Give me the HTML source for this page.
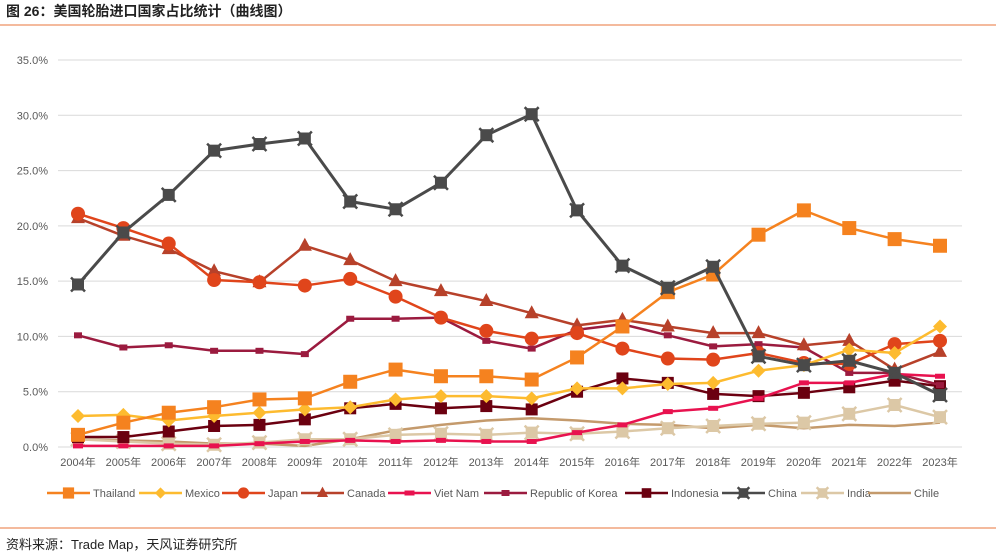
<!DOCTYPE html>
<html><head><meta charset="utf-8"><style>
body{margin:0;background:#fff;font-family:"Liberation Sans","Noto Sans CJK SC",sans-serif;}
#wrap{position:relative;width:996px;height:558px;overflow:hidden}
</style></head><body>
<div id="wrap">
<svg id="svg" width="996" height="558">
<text x="6" y="16" font-size="14" font-weight="bold" fill="#222" font-family="Liberation Sans, Noto Sans CJK SC, sans-serif">图 26：美国轮胎进口国家占比统计（曲线图）</text>
<line x1="0" y1="25" x2="996" y2="25" stroke="#E8743B" stroke-width="1"/>
<line x1="0" y1="528" x2="996" y2="528" stroke="#E8743B" stroke-width="1"/>
<text x="6" y="549" font-size="13" fill="#222" font-family="Liberation Sans, Noto Sans CJK SC, sans-serif">资料来源：Trade Map，天风证券研究所</text>
<g id="grid"></g><g id="series"></g><g id="legend"></g>
</svg>
</div>
<script>
const years=["2004年","2005年","2006年","2007年","2008年","2009年","2010年","2011年","2012年","2013年","2014年","2015年","2016年","2017年","2018年","2019年","2020年","2021年","2022年","2023年"];
const yTicks=[0,5,10,15,20,25,30,35];
const thailand=[1.1,2.2,3.1,3.6,4.3,4.4,5.9,7.0,6.4,6.4,6.1,8.1,10.9,14.0,15.6,19.2,21.4,19.8,18.8,18.2];
const mexico=[2.8,2.9,2.4,2.8,3.1,3.4,3.6,4.3,4.6,4.6,4.4,5.3,5.3,5.7,5.8,6.9,7.4,8.8,8.5,10.9];
const japan=[21.1,19.8,18.4,15.1,14.9,14.6,15.2,13.6,11.7,10.5,9.8,10.3,8.9,8.0,7.9,8.5,7.6,7.5,9.3,9.6];
const canada=[20.7,19.1,17.9,15.9,14.9,18.2,16.9,15.0,14.1,13.2,12.1,11.0,11.5,10.9,10.3,10.3,9.2,9.6,7.0,8.6];
const vietnam=[0.1,0.1,0.1,0.1,0.3,0.5,0.6,0.5,0.6,0.5,0.5,1.3,2.0,3.2,3.5,4.4,5.8,5.8,6.6,6.4];
const korea=[10.1,9.0,9.2,8.7,8.7,8.4,11.6,11.6,11.7,9.6,8.9,10.6,11.1,10.1,9.1,9.3,9.0,6.7,6.7,5.6];
const indonesia=[0.9,0.9,1.4,1.9,2.0,2.5,3.5,3.9,3.5,3.7,3.4,5.0,6.2,5.8,4.8,4.6,4.9,5.4,6.0,5.5];
const china=[14.7,19.4,22.8,26.8,27.4,27.9,22.2,21.5,23.9,28.2,30.1,21.4,16.4,14.4,16.3,8.2,7.4,7.8,6.7,4.7];
const india=[0.7,0.5,0.3,0.2,0.4,0.7,0.7,1.1,1.2,1.1,1.3,1.2,1.4,1.7,1.9,2.1,2.2,3.0,3.8,2.7];
const chile=[0.7,0.6,0.5,0.3,0.3,0.1,0.7,1.5,2.0,2.4,2.6,2.4,2.1,2.0,1.7,2.0,1.7,2.0,1.9,2.2];
const seriesNames=["Thailand","Mexico","Japan","Canada","Viet Nam","Republic of Korea","Indonesia","China","India","Chile"];
const seriesData=[thailand,mexico,japan,canada,vietnam,korea,indonesia,china,india,chile];
const colors=["#F5821F","#FDBB2F","#E0451B","#B7412A","#E8124F","#9B1B3F","#6B0010","#4A4A4A","#DCC8A6","#C49A6C"];
const markers=["square","diamond","circle","triangle","dash","smallrect","square2","xsquare","xsquare2","none"];
const NS="http://www.w3.org/2000/svg";
const X0=78,X1=940,Y0=447,Y35=60;
const xs=i=>X0+(X1-X0)*i/(years.length-1);
const ys=v=>Y0-(Y0-Y35)*v/35;
function mk(t,a,p){const e=document.createElementNS(NS,t);for(const k in a)e.setAttribute(k,a[k]);p.appendChild(e);return e;}
const grid=document.getElementById('grid');
yTicks.forEach(t=>{
  const l=mk('line',{x1:58,x2:962,y1:ys(t),y2:ys(t),stroke:'#D9D9D9','stroke-width':1},grid);
  
  
  const tx=mk('text',{x:48,y:ys(t)+4,'font-size':11,fill:'#595959','text-anchor':'end'},grid);
  tx.textContent=t.toFixed(1)+'%';
  
  
});
years.forEach((y,i)=>{
  const tx=mk('text',{x:xs(i),y:466,'font-size':11,fill:'#595959','text-anchor':'middle','font-family':'Liberation Sans, Noto Sans CJK SC, sans-serif'},grid);
  tx.textContent=y;
  
  
});
function marker(g,type,x,y,c,sc){
  sc=sc||1;let e;
  if(type==='square')e=mk('rect',{x:x-7*sc,y:y-7*sc,width:14*sc,height:14*sc,fill:c},g);
  else if(type==='square2')e=mk('rect',{x:x-6*sc,y:y-6*sc,width:12*sc,height:12*sc,fill:c},g);
  else if(type==='diamond')e=mk('polygon',{points:`${x},${y-7*sc} ${x+7*sc},${y} ${x},${y+7*sc} ${x-7*sc},${y}`,fill:c},g);
  else if(type==='circle')e=mk('circle',{cx:x,cy:y,r:7*sc,fill:c},g);
  else if(type==='triangle')e=mk('polygon',{points:`${x},${y-8*sc} ${x+7*sc},${y+5*sc} ${x-7*sc},${y+5*sc}`,fill:c},g);
  else if(type==='dash')e=mk('rect',{x:x-5,y:y-2.5,width:10,height:5,fill:c},g);
  else if(type==='smallrect')e=mk('rect',{x:x-4,y:y-3,width:8,height:6,fill:c},g);
  else if(type==='xsquare'||type==='xsquare2'){const s=6*sc;e=mk('rect',{x:x-s,y:y-s,width:2*s,height:2*s,fill:c},g);
    mk('path',{d:`M${x-s-1} ${y-s-1}L${x+s+1} ${y+s+1}M${x+s+1} ${y-s-1}L${x-s-1} ${y+s+1}`,stroke:c,'stroke-width':2.5},g);}
  if(e){}
}
const sg=document.getElementById('series');
const order=[9,8,6,5,4,3,2,1,0,7];
order.forEach(s=>{
  const g=mk('g',{},sg);
  
  
  const d=seriesData[s].map((v,i)=>(i?'L':'M')+xs(i)+' '+ys(v)).join('');
  const p=mk('path',{d,fill:'none',stroke:colors[s],'stroke-width':s===7?3:2.5,'stroke-linejoin':'round'},g);
  
  
  seriesData[s].forEach((v,i)=>marker(g,markers[s],xs(i),ys(v),colors[s]));
});
const lg=document.getElementById('legend');
const legendStart=[47,139,222,301,388,484,625,722,801,868];
seriesNames.forEach((n,s)=>{
  const P=legendStart[s];
  const g=mk('g',{},lg);
  
  
  mk('line',{x1:P,x2:P+43,y1:493,y2:493,stroke:colors[s],'stroke-width':2.5},g);
  marker(g,markers[s],P+21.5,493,colors[s],0.8);
  const t=mk('text',{x:P+46,y:497,'font-size':11,fill:'#595959'},g);
  t.textContent=n;
});
</script>
</body></html>
